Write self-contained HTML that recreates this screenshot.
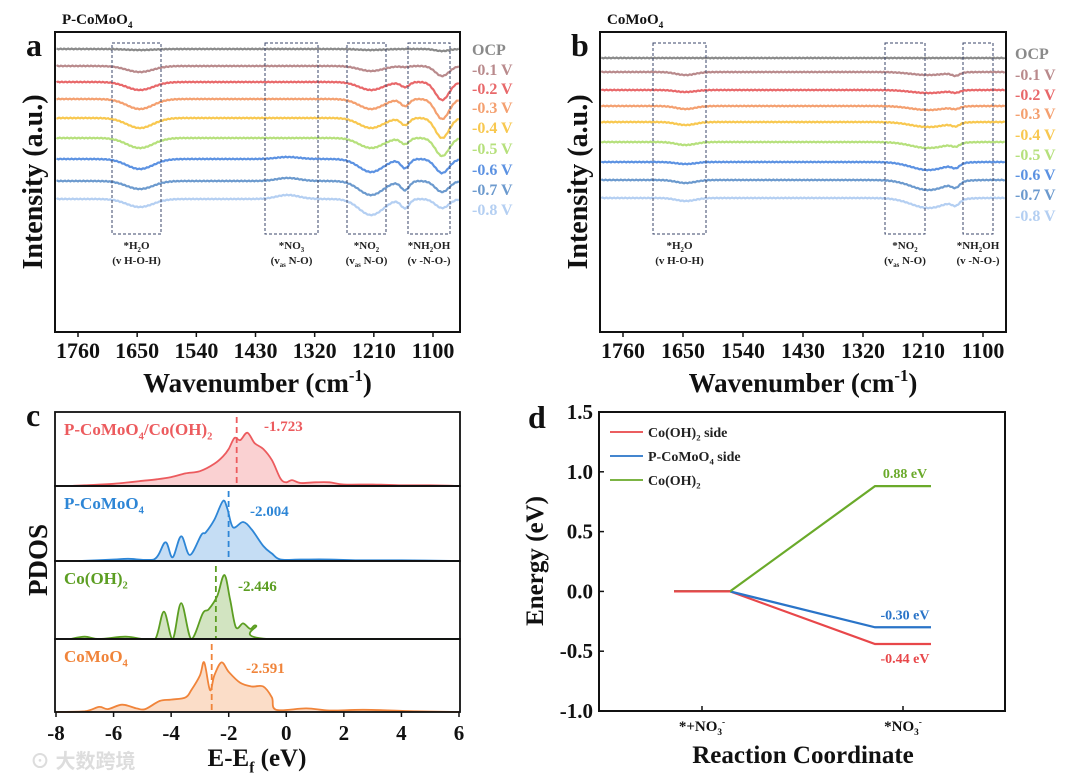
<!DOCTYPE html>
<html><head><meta charset="utf-8"><style>
body{margin:0;background:#fff}
svg{display:block;font-family:"Liberation Serif","Noto Serif CJK SC",serif;font-weight:bold}
</style></head><body>
<svg id="fig" width="1080" height="783" viewBox="0 0 1080 783" xmlns="http://www.w3.org/2000/svg">
<rect width="1080" height="783" fill="#fff"/>
<g id="pa"></g>
<g id="pb"></g>
<g id="pc"></g>
<g id="pd"></g>
<text x="30" y="768" font-size="20" fill="#ddd" font-family="Liberation Sans,Noto Sans CJK SC,sans-serif">⊙ 大数跨境</text>
</svg>
<script>
// ---------- data ----------
const potentials = ["OCP","-0.1 V","-0.2 V","-0.3 V","-0.4 V","-0.5 V","-0.6 V","-0.7 V","-0.8 V"];
const irColors = ["#8a8a8a","#b98a8c","#e8686a","#f4a070","#f8c850","#b6e07c","#5c92e2","#6c9ace","#b4cff2"];
const wnTicks = [1760,1650,1540,1430,1320,1210,1100];
// panel a: offsets (px) and band depths
const aOffsets = [49,66,82,99,118,138,159,181,199];
const aH2O = [1,6,8,10,10,10,10,8,8];
const aNO2 = [1,5,8,10,10,10,13,14,16];
const aMid = [0,1,5,7,7,6,9,9,9];
const aNH2OH = [2,10,18,20,20,18,14,11,9];
const aNO3 = [0,0,0,0,0,0,-2,-3,-4];
// panel b
const bOffsets = [58,72,90,106,122,142,162,180,198];
const bH2O = [0,3,2,3,3,3,2,3,3];
const bNO2 = [0,3,3,4,5,6,8,10,10];
const bMid = [0,3,2,2,3,3,4,5,5];
// panel c PDOS
const pdosNames = ["P-CoMoO4/Co(OH)2","P-CoMoO4","Co(OH)2","CoMoO4"];
const pdosColors = ["#ec5b5e","#2e86d6","#5c9e22","#f0843a"];
const dbandCenters = [-1.723,-2.004,-2.446,-2.591];
const pdos0E = [-7.5,-7,-6,-5,-4.5,-4,-3.5,-3,-2.5,-2.2,-2,-1.8,-1.6,-1.35,-1.1,-0.8,-0.5,-0.2,0,0.2,0.5,1,1.5,2,3,4,5,6];
const pdos0V = [0,0.01,0.03,0.07,0.09,0.12,0.17,0.2,0.3,0.4,0.5,0.65,0.62,0.72,0.58,0.5,0.35,0.1,0.05,0.08,0.04,0.05,0.05,0.02,0.02,0.01,0.01,0];
const pdos1E = [-7.2,-6,-5.5,-4.6,-4.2,-3.95,-3.65,-3.35,-2.95,-2.8,-2.5,-2.2,-2.05,-1.85,-1.5,-1.2,-0.8,-0.5,-0.2,0.5,1.5,2.5,4,6];
const pdos1V = [0,0.02,0.03,0.02,0.25,0.05,0.33,0.08,0.35,0.38,0.55,0.8,0.7,0.45,0.52,0.42,0.2,0.1,0.02,0.02,0.02,0.01,0.01,0];
const pdos2E = [-7.5,-7,-6.5,-5.6,-5,-4.55,-4.25,-3.95,-3.65,-3.3,-2.9,-2.7,-2.4,-2.15,-1.95,-1.75,-1.5,-1.25,-1.05,-0.65,6];
const pdos2V = [0,0.03,0,0.03,0,0,0.35,0,0.46,0,0.33,0.38,0.55,0.82,0.5,0.15,0.2,0.13,0.17,0,0];
const pdos3E = [-8,-7,-6.5,-6.2,-5.7,-5.2,-4.9,-4.4,-4,-3.5,-3.3,-3,-2.85,-2.65,-2.5,-2.25,-2,-1.6,-1.2,-0.8,-0.5,-0.35,0.7,1.5,2.7,4.5,6];
const pdos3V = [0,0.01,0.07,0.04,0.1,0.05,0.04,0.15,0.17,0.2,0.3,0.5,0.68,0.3,0.5,0.68,0.55,0.4,0.35,0.35,0.2,0.03,0.05,0.02,0.03,0.01,0];
const eTicks = [-8,-6,-4,-2,0,2,4,6];
// panel d
const stepNames = ["*+NO3-","*NO3-"];
const dSeries = ["Co(OH)2 side","P-CoMoO4 side","Co(OH)2"];
const dColors = ["#e8474a","#2a74c8","#6aaa2a"];
const dFinal = [-0.44,-0.30,0.88];
const dTicks = [1.5,1.0,0.5,0.0,-0.5,-1.0];

const NS="http://www.w3.org/2000/svg";
function el(parent,tag,attrs,text){const e=document.createElementNS(NS,tag);for(const k in attrs)e.setAttribute(k,attrs[k]);if(text!==undefined)e.textContent=text;parent.appendChild(e);return e;}
function rich(parent,x,y,parts,size,fill,anchor){const t=el(parent,'text',{x:x,y:y,'font-size':size,fill:fill,'text-anchor':anchor||'start'});
 parts.forEach(p=>{el(t,'tspan',p[1]?{'font-size':size*0.62,dy:p[1]==='sub'?size*0.25:-size*0.4}:{},p[0]);
  if(p[1]){el(t,'tspan',{'font-size':0.1,dy:p[1]==='sub'?-size*0.25:size*0.4},'\u200b');}});return t;}
// smooth path through points (Catmull-Rom -> Bezier), clamped y
function smooth(pts,ymax){let d='M'+pts[0][0].toFixed(1)+','+pts[0][1].toFixed(1);
 for(let i=0;i<pts.length-1;i++){const p0=pts[i-1]||pts[i],p1=pts[i],p2=pts[i+1],p3=pts[i+2]||p2;
  const c1x=p1[0]+(p2[0]-p0[0])/6,c1y=Math.min(ymax,p1[1]+(p2[1]-p0[1])/6);
  const c2x=p2[0]-(p3[0]-p1[0])/6,c2y=Math.min(ymax,p2[1]-(p3[1]-p1[1])/6);
  d+=`C${c1x.toFixed(1)},${c1y.toFixed(1)} ${c2x.toFixed(1)},${c2y.toFixed(1)} ${p2[0].toFixed(1)},${p2[1].toFixed(1)}`;}
 return d;}

// ---------- IR panels ----------
function irPanel(g,box,x1760,x1100,offsets,bands,labelX,labelYs,boxes,title,letter){
 const xs=wn=>x1760+(1760-wn)*(x1100-x1760)/660;
 offsets.forEach((off,i)=>{let d='';
  for(let wn=1800;wn>=1050;wn-=2){const x=xs(wn);if(x<box.x0+1||x>box.x1-1)continue;
   let y=off;bands.forEach(b=>{y+=b.v[i]*Math.exp(-Math.pow((wn-b.c)/b.w,2));});
   y+=Math.sin(wn*0.9+i)*0.4;
   d+=(d?'L':'M')+x.toFixed(1)+','+y.toFixed(1);}
  const p=el(g,'path',{d:d,fill:'none',stroke:irColors[i],'stroke-width':2.2});
  
  
  const t=el(g,'text',{x:labelX,y:labelYs[i],'font-size':16,fill:irColors[i]},potentials[i]);
  
  
 });
 boxes.forEach(b=>{const r=el(g,'rect',{x:b[0],y:43,width:b[1]-b[0],height:191,fill:'none',stroke:'#3a4468','stroke-width':1,'stroke-dasharray':'3,2'});
  
  
  const cx=(b[0]+b[1])/2;
  rich(g,cx,249,b[2],11,'#222','middle');rich(g,cx,264,b[3],11,'#222','middle');});
 el(g,'rect',{x:box.x0,y:box.y0,width:box.x1-box.x0,height:box.y1-box.y0,fill:'none',stroke:'#111','stroke-width':2});
 wnTicks.forEach(v=>{const x=xs(v);el(g,'line',{x1:x,y1:box.y1,x2:x,y2:box.y1+5,stroke:'#111','stroke-width':1.5});
  const t=el(g,'text',{x:x,y:358,'font-size':22,'text-anchor':'middle',fill:'#111'},v);
  
  });
 const xt=rich(g,(box.x0+box.x1)/2,392,[['Wavenumber (cm'],['-1','sup'],[')']],27,'#111','middle');
 
 const yt=el(g,'text',{x:0,y:0,'font-size':28,'text-anchor':'middle',fill:'#111',transform:`translate(${box.x0-13},182) rotate(-90)`},'Intensity (a.u.)');
 
 rich(g,box.x0+7,24,[[title.slice(0,-1)],['4','sub']],15,'#111');
 el(g,'text',{x:box.x0-29,y:56,'font-size':32,fill:'#111'},letter);
}
irPanel(document.getElementById('pa'),{x0:55,x1:460,y0:32,y1:332},78,433,aOffsets,
 [{c:1645,w:35,v:aH2O},{c:1215,w:32,v:aNO2},{c:1152,w:11,v:aMid},{c:1083,w:18,v:aNH2OH},{c:1370,w:30,v:aNO3}],
 472,[55,75,94,113,133,154,175,195,215],
 [[112,161,[['*H'],['2','sub'],['O']],[['(v H-O-H)']]],
  [265,318,[['*NO'],['3','sub']],[['(v'],['as','sub'],[' N-O)']]],
  [347,386,[['*NO'],['2','sub']],[['(v'],['as','sub'],[' N-O)']]],
  [408,450,[['*NH'],['2','sub'],['OH']],[['(v -N-O-)']]]],'P-CoMoO4','a');
irPanel(document.getElementById('pb'),{x0:600,x1:1006,y0:32,y1:332},623,983,bOffsets,
 [{c:1645,w:25,v:bH2O},{c:1200,w:45,v:bNO2},{c:1150,w:10,v:bMid}],
 1015,[59,80,100,119,140,160,180,200,221],
 [[653,706,[['*H'],['2','sub'],['O']],[['(v H-O-H)']]],
  [885,925,[['*NO'],['2','sub']],[['(v'],['as','sub'],[' N-O)']]],
  [963,993,[['*NH'],['2','sub'],['OH']],[['(v -N-O-)']]]],'CoMoO4','b');

// ---------- panel c ----------
(function(){const g=document.getElementById('pc');
 const x0=55,x1=460,xE=e=>56+(e+8)*(459-56)/14;
 const bands=[[412,486],[486,561],[561,639],[639,712]];
 const Es=[pdos0E,pdos1E,pdos2E,pdos3E],Vs=[pdos0V,pdos1V,pdos2V,pdos3V];
 const labels=[[['P-CoMoO'],['4','sub'],['/Co(OH)'],['2','sub']],[['P-CoMoO'],['4','sub']],[['Co(OH)'],['2','sub']],[['CoMoO'],['4','sub']]];
 const vals=['-1.723','-2.004','-2.446','-2.591'];const vx=[264,250,238,246],vy=[431,516,591,673];
 bands.forEach((b,i)=>{const h=b[1]-b[0];const E=Es[i],V=Vs[i];
  const pts=E.map((e,k)=>[xE(e),b[1]-V[k]*h]);
  const d=smooth(pts,b[1]);
  const area=el(g,'path',{d:d+`L${pts[pts.length-1][0]},${b[1]}L${pts[0][0]},${b[1]}Z`,fill:pdosColors[i],'fill-opacity':0.28,stroke:'none'});
  
  const line=el(g,'path',{d:d,fill:'none',stroke:pdosColors[i],'stroke-width':1.8});
  
  const dx=xE(dbandCenters[i]);
  const dl=el(g,'line',{x1:dx,y1:b[0]+5,x2:dx,y2:b[1],stroke:pdosColors[i],'stroke-width':1.8,'stroke-dasharray':'6,4'});
  
  el(g,'text',{x:vx[i],y:vy[i],'font-size':15,fill:pdosColors[i]},vals[i]);
  rich(g,64,b[0]+23,labels[i],17,pdosColors[i]);
  el(g,'rect',{x:x0,y:b[0],width:x1-x0,height:h,fill:'none',stroke:'#111','stroke-width':1.8});
 });
 eTicks.forEach(v=>{const x=xE(v);el(g,'line',{x1:x,y1:712,x2:x,y2:717,stroke:'#111','stroke-width':1.5});
  const t=el(g,'text',{x:x,y:740,'font-size':21,'text-anchor':'middle',fill:'#111'},v);
  });
 const xt=rich(g,257,766,[['E-E'],['f','sub'],[' (eV)']],25,'#111','middle');
 
 const yt=el(g,'text',{x:0,y:0,'font-size':27,'text-anchor':'middle',fill:'#111',transform:'translate(47,560) rotate(-90)'},'PDOS');
 
 el(g,'text',{x:26,y:426,'font-size':32,fill:'#111'},'c');
})();

// ---------- panel d ----------
(function(){const g=document.getElementById('pd');
 const x0=599,x1=1005,y0=412,y1=711;const yv=v=>y0+(1.5-v)*(y1-y0)/2.5;
 const xStep=[702,903],half=28;
 dSeries.forEach((n,i)=>{const d=`M${xStep[0]-half},${yv(0)}L${xStep[0]+half},${yv(0)}L${xStep[1]-half},${yv(dFinal[i])}L${xStep[1]+half},${yv(dFinal[i])}`;
  const p=el(g,'path',{d:d,fill:'none',stroke:dColors[i],'stroke-width':2.2});
  
  const lbl=dFinal[i].toFixed(2)+' eV';
  const ly=dFinal[i]<-0.4?yv(dFinal[i])+19:yv(dFinal[i])-8;
  el(g,'text',{x:xStep[1]+2,y:ly,'font-size':14,'text-anchor':'middle',fill:dColors[i]},lbl);
 });
 el(g,'line',{x1:xStep[0]-half,y1:yv(0),x2:xStep[0]+half,y2:yv(0),stroke:dColors[0],'stroke-width':2.2});
 el(g,'rect',{x:x0,y:y0,width:x1-x0,height:y1-y0,fill:'none',stroke:'#111','stroke-width':2});
 dTicks.forEach(v=>{const y=yv(v);el(g,'line',{x1:x0,y1:y,x2:x0+5,y2:y,stroke:'#111','stroke-width':1.5});
  const t=el(g,'text',{x:x0-6,y:y+7,'font-size':21,'text-anchor':'end',fill:'#111'},v.toFixed(1));
  });
 xStep.forEach((x,k)=>{el(g,'line',{x1:x,y1:y1,x2:x,y2:y1-5,stroke:'#111','stroke-width':1.5});
  const t=rich(g,x,731,k==0?[['*+NO'],['3','sub'],['-','sup']]:[['*NO'],['3','sub'],['-','sup']],15,'#111','middle');
  });
 const legLabels=[[['Co(OH)'],['2','sub'],[' side']],[['P-CoMoO'],['4','sub'],[' side']],[['Co(OH)'],['2','sub']]];
 [437,461,485].forEach((y,i)=>{const l=el(g,'line',{x1:610,y1:y-5,x2:643,y2:y-5,stroke:dColors[i],'stroke-width':1.8});
  
  const t=rich(g,648,y,legLabels[i],14,'#222');
  });
 const xt=el(g,'text',{x:803,y:763,'font-size':25,'text-anchor':'middle',fill:'#111'},'Reaction Coordinate');
 
 const yt=el(g,'text',{x:0,y:0,'font-size':25,'text-anchor':'middle',fill:'#111',transform:'translate(543,561) rotate(-90)'},'Energy (eV)');
 
 el(g,'text',{x:528,y:428,'font-size':32,fill:'#111'},'d');
})();
</script>
</body></html>
